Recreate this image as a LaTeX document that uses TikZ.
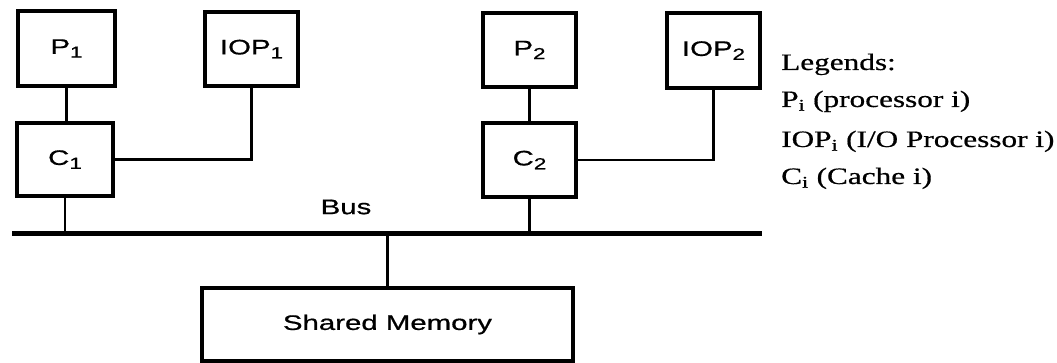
\documentclass[tikz,border=0pt]{standalone}
\usepackage{fontspec}
\setmainfont[FakeBold=0.5]{Liberation Serif}
\newfontfamily\boxfont[FakeBold=0.6]{Liberation Sans}
\newcommand\stretchx[1]{\scalebox{1.4}[1]{#1}}
\newcommand\stretchl[1]{\scalebox{1.33}[1]{#1}}
\newcommand\bsub[1]{\raisebox{-0.35ex}{\fontsize{16}{16}\selectfont #1}}
\begin{document}
\begin{tikzpicture}[x=1pt,y=-1pt,
  blk/.style={draw, line width=3.2pt, inner sep=0pt, font=\boxfont\fontsize{21}{21}\selectfont},
  wire/.style={line width=2.2pt},
  busline/.style={line width=5pt},
  lbl/.style={font=\boxfont\fontsize{21}{21}\selectfont, inner sep=0pt},
  leg/.style={anchor=base west, inner sep=0pt, font=\fontsize{23.5}{23.5}\selectfont}]
\useasboundingbox[fill=white] (0,0) rectangle (1057,363);
\node[blk, minimum width=97pt, minimum height=75pt] (p1) at (66.5,48.5) {\stretchx{P\bsub{1}}};
\node[blk, minimum width=93pt, minimum height=74pt] (iop1) at (251.5,49) {\stretchx{IOP\bsub{1}}};
\node[blk, minimum width=96pt, minimum height=73pt] (c1) at (65,159.5) {\stretchx{C\bsub{1}}};
\node[blk, minimum width=93pt, minimum height=74pt] (p2) at (529.5,50) {\stretchx{P\bsub{2}}};
\node[blk, minimum width=93pt, minimum height=75pt] (iop2) at (713.5,50.5) {\stretchx{IOP\bsub{2}}};
\node[blk, minimum width=93pt, minimum height=74pt] (c2) at (529.5,160) {\stretchx{C\bsub{2}}};
\node[blk, minimum width=371pt, minimum height=73pt] (mem) at (387.5,324.5) {\stretchx{Shared Memory}};
\coordinate (busL) at (12,234);
\coordinate (busR) at (762,234);
\draw[busline] (busL) -- (busR);
\node[lbl] (buslabel) at (346,207) {\stretchx{Bus}};
\draw[wire] (p1.south) -- (p1.south |- c1.north);
\draw[wire] (p2.south) -- (p2.south |- c2.north);
\draw[wire] (c1.east) -- (iop1.south |- c1.east) -- (iop1.south);
\draw[wire] (c2.east) -- (iop2.south |- c2.east) -- (iop2.south);
\draw[wire] (c1.south) -- (c1.south |- busL);
\draw[wire] (c2.south) -- (c2.south |- busL);
\draw[wire] (mem.north) -- (mem.north |- busL);
\node[leg] (lg0) at (781,70) {\stretchl{Legends:}};
\node[leg] (lg1) at (781,107) {\stretchl{P\textsubscript{i} (processor i)}};
\node[leg] (lg2) at (781,147) {\stretchl{IOP\textsubscript{i} (I/O Processor i)}};
\node[leg] (lg3) at (781,184) {\stretchl{C\textsubscript{i} (Cache i)}};
\end{tikzpicture}
\end{document}
